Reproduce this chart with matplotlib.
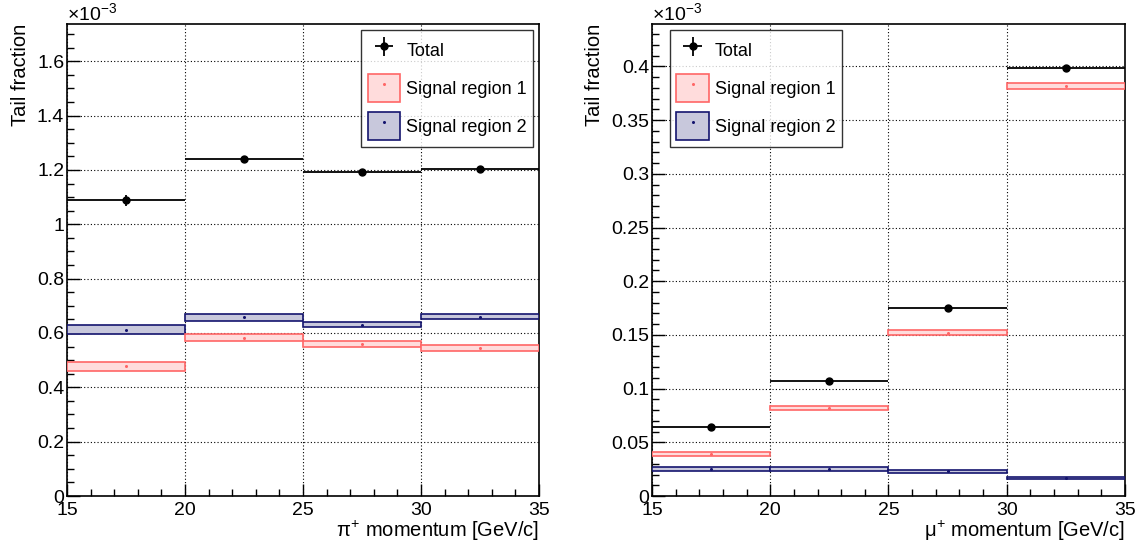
import matplotlib
matplotlib.use("Agg")
import matplotlib.pyplot as plt
from matplotlib.patches import Rectangle
from matplotlib.ticker import MultipleLocator
import numpy as np

plt.rcParams['font.family'] = ['Liberation Sans', 'DejaVu Sans']
plt.rcParams['mathtext.fontset'] = 'custom'
plt.rcParams['mathtext.rm'] = 'Liberation Sans'
plt.rcParams['mathtext.it'] = 'Liberation Sans'

bin_edges = [15, 20, 25, 30, 35]

# Left panel (pi+), values x1e-3
pi_total = [1.089, 1.240, 1.191, 1.205]
pi_total_err = [0.020, 0.012, 0.008, 0.008]
pi_sr1 = [0.477, 0.583, 0.559, 0.544]
pi_sr1_err = [0.016, 0.012, 0.010, 0.010]
pi_sr2 = [0.612, 0.657, 0.631, 0.660]
pi_sr2_err = [0.017, 0.013, 0.010, 0.010]

# Right panel (mu+), values x1e-3
mu_total = [0.0642, 0.1070, 0.1753, 0.3985]
mu_total_err = [0.0010, 0.0010, 0.0010, 0.0012]
mu_sr1 = [0.0393, 0.0817, 0.1522, 0.3820]
mu_sr1_err = [0.0020, 0.0020, 0.0020, 0.0030]
mu_sr2 = [0.0250, 0.0252, 0.0230, 0.0168]
mu_sr2_err = [0.0018, 0.0015, 0.0012, 0.0010]

labels = ["Total", "Signal region 1", "Signal region 2"]

red_fill = '#ffdcdc'
red_edge = '#ff6666'
blue_fill = '#c8c8dc'
blue_edge = '#14146e'

FS = 14.5
TFS = 14
LFS = 13

fig = plt.figure(figsize=(11.39, 5.47), dpi=100)


def draw(ax, total, total_err, sr1, sr1_err, sr2, sr2_err, ymax, major, minor, xlabel):
    edges = np.array(bin_edges, dtype=float)
    centers = 0.5 * (edges[:-1] + edges[1:])
    widths = np.diff(edges)
    for i in range(len(centers)):
        for val, err, fc, ec, z in ((sr2[i], sr2_err[i], blue_fill, blue_edge, 3),
                                   (sr1[i], sr1_err[i], red_fill, red_edge, 4)):
            ax.add_patch(Rectangle((edges[i], val - err), widths[i], 2 * err,
                                   facecolor=fc, edgecolor=ec, lw=1.2, zorder=z))
    ax.plot(centers, sr1, 'o', ms=2.2, color=red_edge, zorder=5, mec='none')
    ax.plot(centers, sr2, 'o', ms=2.2, color=blue_edge, zorder=5, mec='none')
    ax.errorbar(centers, total, xerr=widths / 2, yerr=total_err, fmt='o', ms=5,
                color='black', lw=1.3, capsize=0, zorder=6)

    ax.set_xlim(bin_edges[0], bin_edges[-1])
    ax.set_ylim(0, ymax)
    ax.xaxis.set_major_locator(MultipleLocator(5))
    ax.xaxis.set_minor_locator(MultipleLocator(1))
    ax.yaxis.set_major_locator(MultipleLocator(major))
    ax.yaxis.set_minor_locator(MultipleLocator(minor))
    ax.tick_params(which='both', direction='in', top=False, right=False, labelsize=TFS)
    ax.tick_params(which='major', length=9, width=1)
    ax.tick_params(which='minor', length=5, width=1)
    ax.tick_params(axis='x', pad=4)
    ax.tick_params(axis='y', pad=2)
    ax.grid(True, which='major', linestyle=(0, (1, 2)), color='black', lw=0.8, zorder=0)
    ax.set_axisbelow(True)
    for s in ax.spines.values():
        s.set_linewidth(1.2)
    ax.yaxis.set_major_formatter(matplotlib.ticker.FuncFormatter(lambda v, p: ('%g' % round(v, 6))))
    ax.set_ylabel("Tail fraction", fontsize=FS, loc='top', labelpad=5)
    ax.set_xlabel(xlabel, fontsize=FS, loc='right', labelpad=0)
    ax.text(0.0, 1.0, r"$\times$10$^{-3}$", transform=ax.transAxes, fontsize=TFS,
            ha='left', va='bottom')

    h_tot = ax.errorbar([], [], xerr=[], yerr=[], fmt='o', ms=5, color='black', lw=1.3)
    h1 = (Rectangle((0, 0), 1, 1, facecolor=red_fill, edgecolor=red_edge, lw=1.2),
          plt.Line2D([], [], marker='o', ls='none', ms=2.2, color=red_edge, mec='none'))
    h2 = (Rectangle((0, 0), 1, 1, facecolor=blue_fill, edgecolor=blue_edge, lw=1.2),
          plt.Line2D([], [], marker='o', ls='none', ms=2.2, color=blue_edge, mec='none'))
    return h_tot, h1, h2


ax1 = fig.add_axes([0.0588, 0.0932, 0.4144, 0.8629])
ax2 = fig.add_axes([0.5724, 0.0932, 0.4153, 0.8629])

leg_kw = dict(fontsize=LFS, frameon=True, fancybox=False, edgecolor='black',
              handlelength=1.78, handleheight=2.0, borderpad=0.36, labelspacing=0.55,
              handletextpad=0.35, borderaxespad=0.0)

hs = draw(ax1, pi_total, pi_total_err, pi_sr1, pi_sr1_err, pi_sr2, pi_sr2_err,
          1.737, 0.2, 0.05, r"$\pi^{+}$ momentum [GeV/c]")
leg1 = ax1.legend(hs, labels, loc='upper right', bbox_to_anchor=(0.988, 0.987), **leg_kw)
leg1.get_frame().set_linewidth(1.0)
leg1.set_zorder(10)

hs = draw(ax2, mu_total, mu_total_err, mu_sr1, mu_sr1_err, mu_sr2, mu_sr2_err,
          0.4395, 0.05, 0.01, r"$\mu^{+}$ momentum [GeV/c]")
leg2 = ax2.legend(hs, labels, loc='upper left', bbox_to_anchor=(0.038, 0.987), **leg_kw)
leg2.get_frame().set_linewidth(1.0)
leg2.set_zorder(10)

fig.savefig("out.png", dpi=100)
